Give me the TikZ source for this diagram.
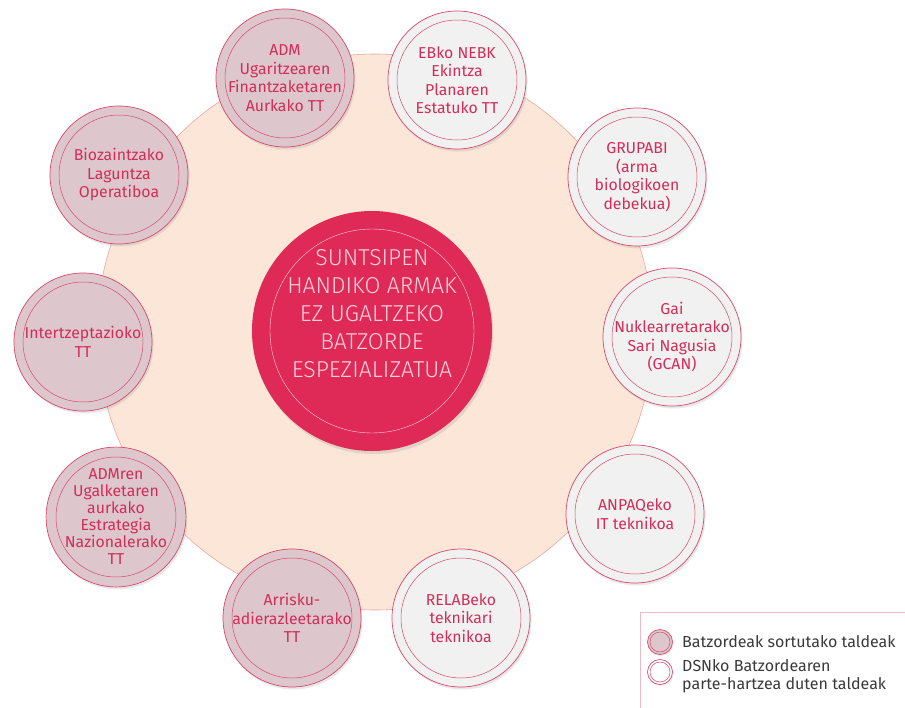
\documentclass[tikz,border=0pt]{standalone}
\usepackage{fontspec}
\setmainfont{Fira Sans}
\newfontfamily\lightfont{Fira Sans Light}
\usetikzlibrary{shadows}
\definecolor{peach}{HTML}{FBE6D7}
\definecolor{peachline}{HTML}{E8A8A2}
\definecolor{crimson}{HTML}{DF2A57}
\definecolor{mauve}{HTML}{DDC7CD}
\definecolor{pale}{HTML}{F2F1F1}
\definecolor{ringc}{HTML}{D9486B}
\definecolor{txt}{HTML}{D02E58}
\definecolor{centertxt}{HTML}{FAD3DC}
\definecolor{legendline}{HTML}{F2B9C4}
\definecolor{legendtxt}{HTML}{3A3A3A}
\begin{document}
\begin{tikzpicture}[x=1pt,y=-1pt,
  satbase/.style={circle, inner sep=0pt, minimum size=138pt, draw=ringc, line width=0.7pt,
    align=center, text=txt, font=\fontsize{15.8}{18.5}\selectfont,
    drop shadow={opacity=0.18, shadow xshift=1.5pt, shadow yshift=-2.5pt}},
  own/.style={satbase, fill=mauve},
  ext/.style={satbase, fill=pale},
  innerring/.style={draw=ringc, line width=0.5pt},
  legdot/.style={circle, inner sep=0pt, minimum size=25pt, draw=ringc, line width=0.7pt,
    drop shadow={opacity=0.15, shadow xshift=1pt, shadow yshift=-1.5pt}},
  legtext/.style={anchor=west, align=left, text=legendtxt, font=\fontsize{16}{18.5}\selectfont, inner sep=0pt},
]
\useasboundingbox (0,0) rectangle (905,707);
\clip (0,0) rectangle (905,707);
\fill[white] (0,0) rectangle (905,707);

% big background disc
\node[circle, inner sep=0pt, minimum size=556pt, fill=peach, draw=peachline, line width=0.6pt] (big) at (375,332) {};

% central disc
\node[circle, inner sep=0pt, minimum size=240pt, fill=crimson, text=centertxt, align=center,
  font=\lightfont\fontsize{23}{28}\selectfont,
  drop shadow={opacity=0.2, shadow xshift=1.5pt, shadow yshift=-3pt}] (core) at (372,331)
  {SUNTSIPEN\\HANDIKO ARMAK\\EZ UGALTZEKO\\BATZORDE\\ESPEZIALIZATUA\\[8pt]};
\draw[centertxt, line width=0.4pt] (core.center) circle[radius=102pt];

% satellites
\node[own] (adm)   at (285,78)  {ADM\\Ugaritzearen\\Finantzaketaren\\Aurkako TT};
\node[ext] (ebko)  at (457,80)  {EBko NEBK\\Ekintza\\Planaren\\Estatuko TT};
\node[ext] (grup)  at (637,177) {GRUPABI\\(arma\\biologikoen\\debekua)};
\node[ext] (gai)   at (672,337) {Gai\\Nuklearretarako\\Sari Nagusia\\(GCAN)};
\node[ext] (anpaq) at (635,514) {ANPAQeko\\IT teknikoa};
\node[ext] (relab) at (461,618) {RELABeko\\teknikari\\teknikoa};
\node[own] (arr)   at (292,618) {Arrisku-\\adierazleetarako\\TT};
\node[own, font=\fontsize{15.8}{17}\selectfont] (admren) at (116,517) {ADMren\\Ugalketaren\\aurkako\\Estrategia\\Nazionalerako\\TT};
\node[own] (inter) at (83,342)  {Intertzeptazioko\\TT};
\node[own] (bio)   at (119,175) {Biozaintzako\\Laguntza\\Operatiboa};

\foreach \n in {adm,ebko,grup,gai,anpaq,relab,arr,admren,inter,bio}
  \draw[innerring] (\n.center) circle[radius=60pt];

% legend
\draw[legendline, fill=white, line width=0.8pt] (640,612) rectangle (930,730);
\node[legdot, fill=mauve] (l1) at (660,642) {};
\draw[innerring] (l1.center) circle[radius=10pt];
\node[legdot, fill=white] (l2) at (660,672) {};
\draw[innerring] (l2.center) circle[radius=10pt];
\node[legtext] (t1) at (682,642) {Batzordeak sortutako taldeak};
\node[legtext] (t2) at (682,676) {DSNko Batzordearen\\parte-hartzea duten taldeak};
\end{tikzpicture}
\end{document}
